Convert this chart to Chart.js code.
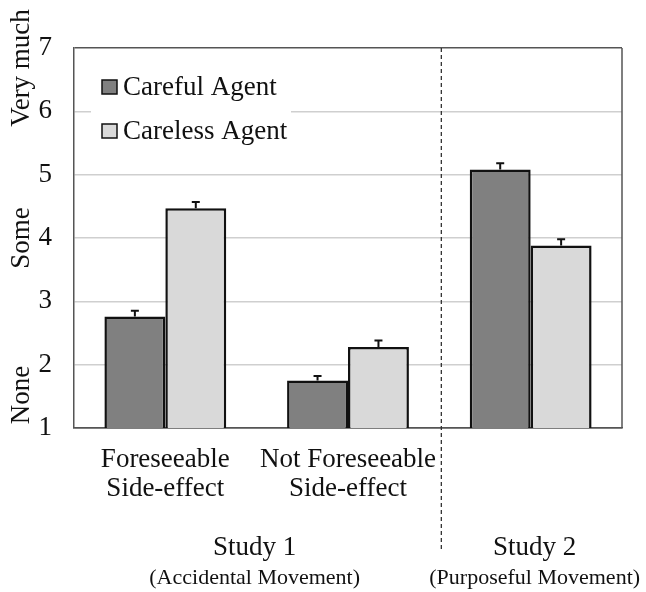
<!DOCTYPE html>
<html>
<head>
<meta charset="utf-8">
<script src="https://cdn.jsdelivr.net/npm/chart.js@4.4.1/dist/chart.umd.min.js"></script>
<style>
  body { margin: 0; background: #fff; }
</style>
</head>
<body>
<canvas id="chart" width="646" height="592"></canvas>
<script>
const categories = [["Foreseeable", "Side-effect"], ["Not Foreseeable", "Side-effect"], ""];
const carefulValues = [2.76, 1.75, 5.08];
const carelessValues = [4.47, 2.28, 3.88];
const carefulErrors = [0.09, 0.07, 0.1];
const carelessErrors = [0.1, 0.1, 0.1];
const yTickLabels = [1, 2, 3, 4, 5, 6, 7];
const sideLabels = [["None", 1.5], ["Some", 4], ["Very much", 6.4]];
const studyLabels = [["Study 1", "(Accidental Movement)", 0, 1], ["Study 2", "(Purposeful Movement)", 2, 2]];

const SERIF = "'Liberation Serif', 'Times New Roman', serif";
const INK = "#111";

// error bars, dashed divider, side labels, legend, study labels
const extras = {
  id: "extras",
  beforeDatasetsDraw(chart) {
    const { ctx, chartArea } = chart;
    ctx.save();
    // white patch behind the legend
    ctx.fillStyle = "#fff";
    ctx.fillRect(chartArea.left + 17, 62, 200, 90);
    const items = [["Careful Agent", "#808080", 87], ["Careless Agent", "#d9d9d9", 131]];
    ctx.font = `27px ${SERIF}`;
    ctx.textBaseline = "middle";
    items.forEach(([text, color, y]) => {
      ctx.fillStyle = color;
      ctx.fillRect(102, y - 7, 15, 14);
      ctx.strokeStyle = INK;
      ctx.lineWidth = 1.5;
      ctx.strokeRect(102, y - 7, 15, 14);
      ctx.fillStyle = INK;
      ctx.fillText(text, 123, y + 1);
    });
    ctx.restore();
  },
  afterDatasetsDraw(chart) {
    const { ctx, chartArea } = chart;
    const yScale = chart.scales.y;
    const x = chart.scales.x;
    ctx.save();
    ctx.strokeStyle = INK;
    ctx.lineWidth = 2;
    [carefulErrors, carelessErrors].forEach((errs, di) => {
      const meta = chart.getDatasetMeta(di);
      meta.data.forEach((bar, i) => {
        const v = chart.data.datasets[di].data[i];
        const y0 = yScale.getPixelForValue(v);
        const y1 = yScale.getPixelForValue(v + errs[i]);
        ctx.beginPath();
        ctx.moveTo(bar.x, y0);
        ctx.lineTo(bar.x, y1);
        ctx.moveTo(bar.x - 4, y1);
        ctx.lineTo(bar.x + 4, y1);
        ctx.stroke();
      });
    });

    // right border of plot
    ctx.strokeStyle = "#555";
    ctx.lineWidth = 1.5;
    ctx.beginPath();
    ctx.moveTo(chartArea.right, chartArea.top);
    ctx.lineTo(chartArea.right, chartArea.bottom);
    ctx.stroke();

    // dashed divider between study 1 and study 2
    const divX = (x.getPixelForValue(1) + x.getPixelForValue(2)) / 2 + 2;
    ctx.strokeStyle = "#333";
    ctx.lineWidth = 1.3;
    ctx.setLineDash([4, 3]);
    ctx.beginPath();
    ctx.moveTo(divX, chartArea.top);
    ctx.lineTo(divX, 552);
    ctx.stroke();
    ctx.setLineDash([]);

    // rotated side labels
    ctx.fillStyle = INK;
    ctx.font = `27px ${SERIF}`;
    ctx.textAlign = "center";
    ctx.textBaseline = "middle";
    sideLabels.forEach(([text, v]) => {
      let y = yScale.getPixelForValue(v);
      if (text === "None") y = 395;
      if (text === "Very much") y = 68;
      ctx.save();
      ctx.translate(22, y);
      ctx.rotate(-Math.PI / 2);
      ctx.fillText(text, 0, 0);
      ctx.restore();
    });

    // study labels
    studyLabels.forEach(([title, sub, a, b]) => {
      const cx = a === b ? x.getPixelForValue(a) + 4 : (x.getPixelForValue(a) + x.getPixelForValue(b)) / 2 - 2;
      ctx.font = `27px ${SERIF}`;
      ctx.fillText(title, cx, 548);
      ctx.font = `22px ${SERIF}`;
      ctx.fillText(sub, cx, 578);
    });
    ctx.restore();
  }
};

new Chart(document.getElementById("chart"), {
  type: "bar",
  data: {
    labels: categories,
    datasets: [
      {
        label: "Careful Agent",
        data: carefulValues,
        backgroundColor: "#808080",
        borderColor: INK,
        borderWidth: 2.5,
        borderSkipped: "bottom",
        categoryPercentage: 0.667,
        barPercentage: 1.0,
      },
      {
        label: "Careless Agent",
        data: carelessValues,
        backgroundColor: "#d9d9d9",
        borderColor: INK,
        borderWidth: 2.5,
        borderSkipped: "bottom",
        categoryPercentage: 0.667,
        barPercentage: 1.0,
      },
    ],
  },
  options: {
    responsive: false,
    animation: false,
    layout: { padding: { top: 48, right: 24, left: 0, bottom: 0 } },
    plugins: {
      legend: { display: false },
      tooltip: { enabled: false },
    },
    scales: {
      x: {
        grid: { display: false },
        border: { color: "#555", width: 1.5 },
        ticks: {
          color: INK,
          font: { family: SERIF, size: 27, lineHeight: 1.05 },
          padding: 10,
          maxRotation: 0,
        },
        afterFit: (scale) => { scale.height = 164; },
      },
      y: {
        min: 1,
        max: 7,
        border: { color: "#555", width: 1.5 },
        grid: {
          color: (c) => (c.tick && (c.tick.value === 1 || c.tick.value === 7) ? "#555" : "#cfcfcf"),
          lineWidth: 1.5,
          drawTicks: false,
        },
        ticks: {
          stepSize: 1,
          color: INK,
          padding: 22,
          font: { family: SERIF, size: 27 },
          callback: (v) => (yTickLabels.includes(v) ? String(v) : ""),
        },
        afterFit: (scale) => { scale.width = 74; },
      },
    },
  },
  plugins: [extras],
});
</script>
</body>
</html>
